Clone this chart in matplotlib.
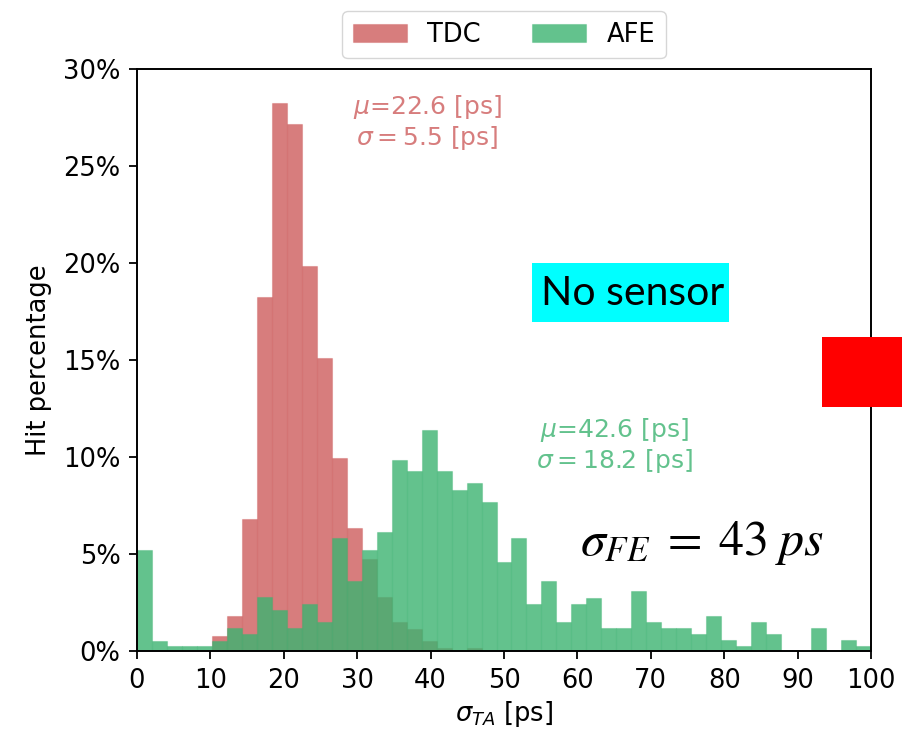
import numpy as np
import matplotlib
matplotlib.use("Agg")
import matplotlib.pyplot as plt
from matplotlib.patches import Rectangle

# ---- data (percent of hits per bin) ----
bin_edges = np.linspace(0, 100, 50)  # 49 bins

tdc_pct = [0, 0, 0, 0, 0, 0.77, 1.78, 6.80, 18.24, 28.25,
           27.16, 19.82, 15.11, 9.96, 6.33, 4.75, 2.79, 1.47, 1.15, 0.53,
           0.14, 0.0, 0.14, 0, 0, 0, 0, 0, 0, 0,
           0, 0, 0, 0, 0, 0, 0, 0, 0, 0,
           0, 0, 0, 0, 0, 0, 0, 0, 0]

afe_pct = [5.21, 0.53, 0.24, 0.24, 0.24, 0.53, 1.16, 0.87, 2.76, 2.11,
           1.18, 2.43, 1.48, 5.82, 3.61, 5.19, 6.14, 9.82, 9.27, 11.40,
           9.27, 8.32, 8.64, 7.69, 4.58, 5.82, 2.44, 3.63, 1.49, 2.44,
           2.73, 1.18, 1.18, 3.07, 1.49, 1.18, 1.18, 0.86, 1.80, 0.55,
           0.24, 1.49, 0.86, 0.0, 0.0, 1.18, 0.0, 0.55, 0.24]

series_labels = ["TDC", "AFE"]
y_ticks = [0, 5, 10, 15, 20, 25, 30]
y_tick_labels = ["0%", "5%", "10%", "15%", "20%", "25%", "30%"]
x_ticks = [0, 10, 20, 30, 40, 50, 60, 70, 80, 90, 100]

tdc_stats = (22.6, 5.5)
afe_stats = (42.6, 18.2)

# ---- figure ----
fig = plt.figure(figsize=(9.02, 7.33), dpi=100)
ax = fig.add_axes([137 / 902, 1 - 651 / 733, (871 - 137) / 902, (651 - 69) / 733])

red_c = matplotlib.colors.to_rgba("indianred", 0.8)
green_c = matplotlib.colors.to_rgba("mediumseagreen", 0.8)

centers = (bin_edges[:-1] + bin_edges[1:]) / 2
ax.hist(centers, bins=bin_edges, weights=tdc_pct, facecolor=red_c,
        edgecolor=matplotlib.colors.to_rgba("indianred", 0.35), linewidth=0.8,
        label=series_labels[0])
ax.hist(centers, bins=bin_edges, weights=afe_pct, facecolor=green_c,
        edgecolor=matplotlib.colors.to_rgba("mediumseagreen", 0.35), linewidth=0.8,
        label=series_labels[1])

ax.set_xlim(0, 100)
ax.set_ylim(0, 30)
ax.set_xticks(x_ticks)
ax.set_yticks(y_ticks)
ax.set_yticklabels(y_tick_labels)
ax.tick_params(labelsize=18.5, length=6, width=1.3, pad=6)
for s in ax.spines.values():
    s.set_linewidth(1.4)

ax.set_xlabel(r"$\sigma_{TA}$ [ps]", fontsize=18.5, labelpad=4)
ax.set_ylabel("Hit percentage", fontsize=18.5, labelpad=8)

leg = ax.legend(loc="lower center", bbox_to_anchor=(0.5, 1.0), ncol=2, fontsize=18.5,
                columnspacing=2.0, handlelength=2.1, borderpad=0.4,
                borderaxespad=0.43)

ax.text(39.6, 27.25,
        r"$\mu$=%.1f [ps]" % tdc_stats[0] + "\n" + r"$\sigma=%.1f$ [ps]" % tdc_stats[1],
        color=red_c, fontsize=18, ha="center", va="center", multialignment="center",
        linespacing=1.15)
ax.text(65.1, 10.6,
        r"$\mu$=%.1f [ps]" % afe_stats[0] + "\n" + r"$\sigma=%.1f$ [ps]" % afe_stats[1],
        color=green_c, fontsize=18, ha="center", va="center", multialignment="center",
        linespacing=1.15)

# overlay annotations (slide-like)
fig.patches.append(Rectangle((532 / 902, 1 - 322 / 733), 197 / 902, 59 / 733,
                             transform=fig.transFigure, facecolor="#00ffff",
                             edgecolor="none", zorder=5))
fig.text((532 + 729) / 2 / 902 + 0.002, 1 - 293 / 733, "No sensor", fontsize=29.5,
         family="Lato", ha="center", va="center", color="black", zorder=6)
fig.patches.append(Rectangle((822 / 902, 1 - 407 / 733), 80 / 902, 70 / 733,
                             transform=fig.transFigure, facecolor="#ff0000",
                             edgecolor="none", zorder=5))
fig.text(580 / 902, 1 - 555 / 733, r"$\sigma_{FE}\;=\;43\;ps$", fontsize=36,
         math_fontfamily="stix", ha="left", va="baseline", color="black", zorder=6)

fig.savefig("out.png", dpi=100)
